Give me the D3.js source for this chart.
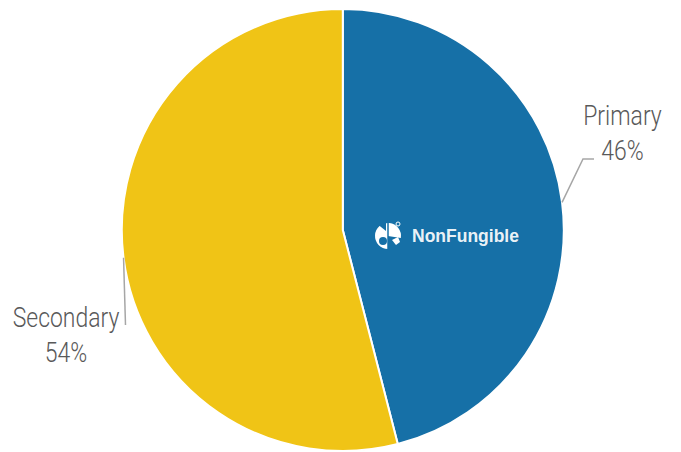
<!DOCTYPE html>
<html>
<head>
<meta charset="utf-8">
<script src="https://cdn.jsdelivr.net/npm/d3@7"></script>
<style>
  html, body { margin: 0; padding: 0; background: #fff; }
  svg { display: block; }
</style>
</head>
<body>
<svg id="chart" width="681" height="452"></svg>
<script>
const categories = ["Primary", "Secondary"];
const values = [46, 54];
const valueLabels = ["46%", "54%"];
const colors = ["#1670a7", "#f0c416"];

const W = 681, H = 452;
const cx = 342.8, cy = 230, R = 221;

const svg = d3.select("#chart");
const g = svg.append("g").attr("transform", `translate(${cx},${cy})`);

const pie = d3.pie().sort(null).value(d => d.value);
const arc = d3.arc().innerRadius(0).outerRadius(R);
const data = categories.map((c, i) => ({ cat: c, value: values[i], label: valueLabels[i], color: colors[i] }));
const arcs = pie(data);

g.selectAll("path.slice").data(arcs).enter().append("path")
  .attr("class", "slice")
  .attr("d", arc)
  .attr("fill", d => d.data.color)
  .attr("stroke", "#fff")
  .attr("stroke-width", 2)
  .attr("stroke-linejoin", "round");

// leader lines and labels
const labelLayout = [
  { bend: [583 - cx, 159 - cy], end: [594 - cx, 159 - cy], tx: 622.5 - cx, ty: 125 - cy },
  { bend: null, end: [125.5 - cx, 325 - cy], tx: 66 - cx, ty: 327 - cy }
];

arcs.forEach((a, i) => {
  const mid = (a.startAngle + a.endAngle) / 2;
  const sx = Math.sin(mid) * R, sy = -Math.cos(mid) * R;
  const L = labelLayout[i];
  const pts = [[sx, sy]];
  if (L.bend) pts.push(L.bend);
  pts.push(L.end);
  g.append("path")
    .attr("d", d3.line()(pts))
    .attr("fill", "none")
    .attr("stroke", "#a6a6a6")
    .attr("stroke-width", 1.5);

  const t = g.append("g").attr("transform", `translate(${L.tx},${L.ty}) scale(0.82,1)`);
  t.append("text")
    .attr("text-anchor", "middle")
    .attr("font-family", "Roboto, 'Liberation Sans', sans-serif")
    .attr("font-weight", 300)
    .attr("font-size", 28)
    .attr("fill", "#595959")
    .text(a.data.cat);
  t.append("text")
    .attr("y", 35)
    .attr("text-anchor", "middle")
    .attr("font-family", "Roboto, 'Liberation Sans', sans-serif")
    .attr("font-weight", 300)
    .attr("font-size", 28)
    .attr("fill", "#595959")
    .text(a.data.label);
});

// watermark logo
const logo = svg.append("g").attr("transform", "translate(388,236)");
logo.append("path")
  .attr("d", d3.arc().innerRadius(0).outerRadius(13).startAngle(-Math.PI).endAngle(Math.PI * 0.55)())
  .attr("fill", "#fff");
logo.append("path")
  .attr("d", "M-12,-13 L-2,-13 L-2,-5 Z")
  .attr("fill", "#1670a7");
logo.append("circle").attr("cx", -5).attr("cy", 5).attr("r", 4).attr("fill", "#1670a7");
logo.append("line").attr("x1", 0).attr("y1", -14).attr("x2", 0).attr("y2", 14)
  .attr("stroke", "#1670a7").attr("stroke-width", 1.5);
logo.append("path").attr("d", "M4,4 L10,1 L12,6 L8,9 Z").attr("fill", "#fff");
logo.append("circle").attr("cx", 10).attr("cy", -12).attr("r", 2).attr("fill", "none")
  .attr("stroke", "#fff").attr("stroke-width", 1);
logo.append("text")
  .attr("x", 24).attr("y", 5.5)
  .attr("font-family", "'Liberation Sans', Arial, sans-serif")
  .attr("font-weight", 700)
  .attr("font-size", 17.5)
  .attr("fill", "#fff")
  .attr("fill-opacity", 0.93)
  .text("NonFungible");
</script>
</body>
</html>
